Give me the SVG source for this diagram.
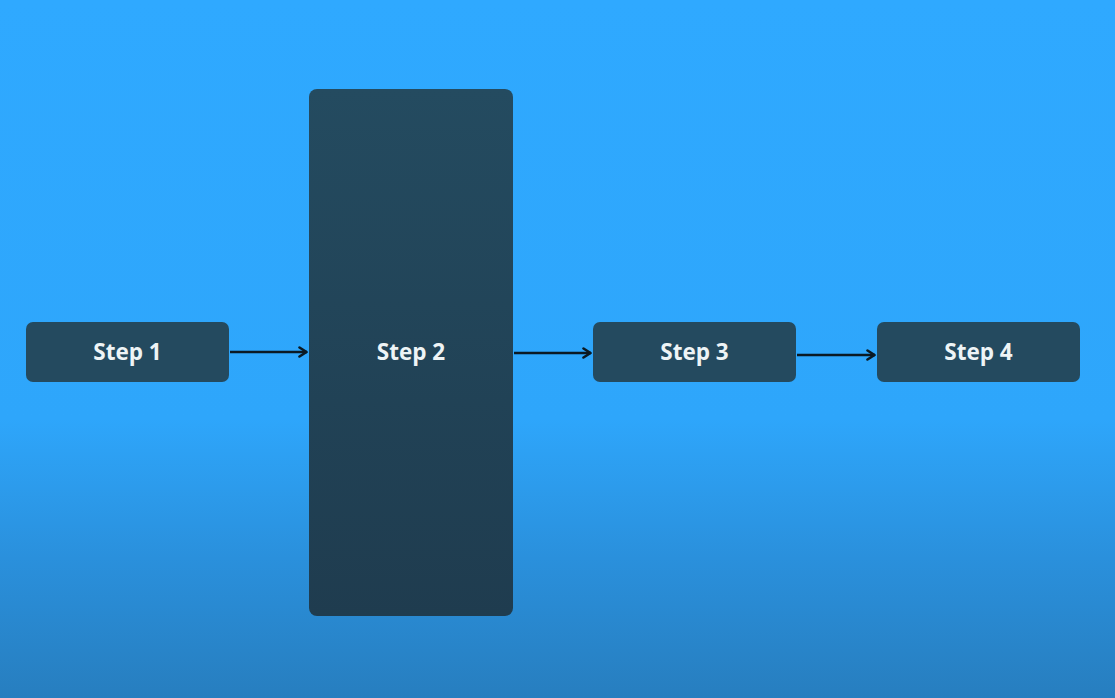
<svg xmlns="http://www.w3.org/2000/svg" width="1115" height="698" viewBox="0 0 1115 698">
<defs>
<linearGradient id="bg" x1="0" y1="0" x2="0" y2="1">
<stop offset="0" stop-color="#2fa9ff"/>
<stop offset="0.6" stop-color="#2ea6fb"/>
<stop offset="0.8" stop-color="#2a90dc"/>
<stop offset="1" stop-color="#277ebf"/>
</linearGradient>
<linearGradient id="tall" x1="0" y1="0" x2="0" y2="1">
<stop offset="0" stop-color="#244b60"/>
<stop offset="1" stop-color="#1f3c4f"/>
</linearGradient>
<marker id="arr" viewBox="0 0 10 12" refX="9" refY="6" markerWidth="10" markerHeight="12" markerUnits="userSpaceOnUse" orient="auto">
<path d="M1.5,1.5 L8.5,6 L1.5,10.5" fill="none" stroke="#0b1a24" stroke-width="2.6" stroke-linecap="round" stroke-linejoin="round"/>
</marker>
<style>
.box{fill:#244a5f;}
.lbl{font-family:"Open Sans","Liberation Sans",sans-serif;font-weight:700;font-size:22.5px;fill:#eef4f6;text-anchor:middle;}
.con{stroke:#0b1a24;stroke-width:2.5;fill:none;marker-end:url(#arr);}
</style>
</defs>
<rect width="1115" height="698" fill="url(#bg)"/>
<g id="connectors">
<line class="con" x1="230" y1="352" x2="307" y2="352"/>
<line class="con" x1="514" y1="353" x2="591" y2="353"/>
<line class="con" x1="797" y1="355" x2="875" y2="355"/>
</g>
<g id="step1">
<rect class="box" x="26" y="322" width="203" height="60" rx="7"/>
<text class="lbl" x="127.5" y="360">Step 1</text>
</g>
<g id="step2">
<rect x="309" y="89" width="204" height="527" rx="8" fill="url(#tall)"/>
<text class="lbl" x="411" y="360">Step 2</text>
</g>
<g id="step3">
<rect class="box" x="593" y="322" width="203" height="60" rx="7"/>
<text class="lbl" x="694.5" y="360">Step 3</text>
</g>
<g id="step4">
<rect class="box" x="877" y="322" width="203" height="60" rx="7"/>
<text class="lbl" x="978.5" y="360">Step 4</text>
</g>
</svg>
